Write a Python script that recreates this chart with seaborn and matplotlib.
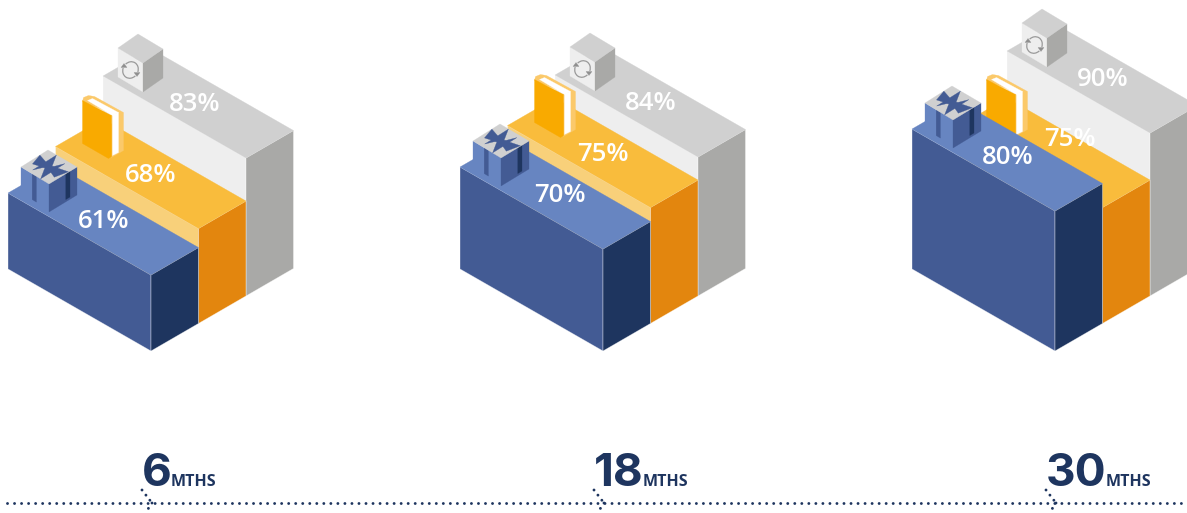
# Isometric stacked blocks, three time points
import numpy as np
import matplotlib
matplotlib.use('Agg')
import matplotlib.pyplot as plt
import seaborn as sns
from matplotlib.patches import Arc

# Data
months = ['6', '18', '30']
gift_pct = [61, 70, 80]
book_pct = [68, 75, 75]
sync_pct = [83, 84, 90]
unit = 'MTHS'

# Colours: (front, top, side)
BLUE = ('#435b94', '#6785c1', '#1e355f')
ORANGE = ('#f8d07a', '#f9bc3c', '#e3860e')
GREY = ('#eeeeee', '#d0d0d0', '#a9a9a7')
NAVY = '#1e355f'

# Height scale of the blocks (not linear in the picture)
scale_pct = [61, 68, 70, 75, 80, 83, 84, 90]
scale_px = [76, 95, 102, 116, 140, 153, 154, 178]
sync_drop = 15

# Isometric geometry
first_apex = np.array([151.0, 351.0])
group_step = 452
length_vec = np.array([-143.0, -82.0])
depth_vec = np.array([47.5, -27.5])


def height(pct, drop=0):
    return np.interp(pct, scale_pct, scale_px) - drop


def poly(ax, pts, color, z, edge=False):
    pts = np.array(pts)
    if edge:
        ax.fill(pts[:, 0], pts[:, 1], facecolor=color, edgecolor=(1, 1, 1, 0.5), lw=0.5, zorder=z)
    else:
        ax.fill(pts[:, 0], pts[:, 1], facecolor=color, edgecolor=color, lw=0.2, zorder=z)


def block(ax, apex, layer, h, colors, z):
    up = np.array([0, -h])
    a = apex + depth_vec * layer
    b = a + depth_vec
    c = a + length_vec
    poly(ax, [a, c, c + up, a + up], colors[0], z, edge=True)
    poly(ax, [a, b, b + up, a + up], colors[2], z, edge=True)
    poly(ax, [a + up, b + up, b + length_vec + up, c + up], colors[1], z)
    # left corner of the top, icons hang from it; top centre for the label
    return c + up, a + up + (depth_vec + length_vec) / 2


def on_face(p, q, r, s, t):
    p, q, r = np.array(p), np.array(q), np.array(r)
    return p + s * (q - p) + t * (r - p)


def gift(ax, c, z):
    c = np.array(c)
    T, L, R, F = c + (40, -43), c + (13, -26), c + (69, -26), c + (41, -9)
    down = np.array([0, 28])
    poly(ax, [L, F, F + down, L + down], BLUE[1], z)
    poly(ax, [F, R, R + down, F + down], BLUE[0], z)
    # ribbon on the two sides
    for s0, s1, face, col in [(0.4, 0.55, (L, F), BLUE[0]), (0.6, 0.75, (F, R), BLUE[2])]:
        p, q = face
        a = p + s0 * (q - p)
        b = p + s1 * (q - p)
        poly(ax, [a, b, b + down * 0.92, a + down * 0.92], col, z)
    poly(ax, [T, R, F, L], GREY[1], z)
    # ribbon cross on the lid, wide at the rim and pinched in the middle
    for band in [[(0.3, 0.12), (0.7, 0), (0.56, 0.44), (0.72, 1), (0.3, 0.9), (0.44, 0.56)],
                 [(0.12, 0.3), (0.44, 0.44), (0, 0.7), (0.9, 0.7), (0.56, 0.56), (1, 0.3)]]:
        poly(ax, [on_face(L, T, F, s, t) for s, t in band], BLUE[0], z)


def book(ax, c, z):
    c = np.array(c)
    back = [(27, -45), (28, -49), (33, -51), (39, -50), (68, -34), (68, 4), (56, 11), (56, -33)]
    poly(ax, c + np.array(back), '#fbc96a', z)
    poly(ax, c + np.array([(57, -32), (63, -34), (63, 6), (57, 9)]), 'white', z)
    poly(ax, c + np.array([(32, -46), (37, -48), (63, -34), (57, -31)]), 'white', z)
    cover = [(27, -46), (56, -31), (56, 10), (53, 12), (27, -3)]
    poly(ax, c + np.array(cover), '#f9aa00', z)


def sync_cube(ax, c, z):
    c = np.array(c)
    T, L, R, F = c + (35, -42), c + (15, -28), c + (60, -27), c + (40, -13)
    down = np.array([0, 29])
    poly(ax, [L, F, F + down, L + down], GREY[0], z)
    poly(ax, [F, R, R + down, F + down], GREY[2], z)
    poly(ax, [T, R, F, L], GREY[1], z)
    mid = (L + F + down) / 2
    ax.add_patch(Arc(mid, 15, 17, angle=30, theta1=20, theta2=165, color='#9a9a9a', lw=0.9, zorder=z))
    ax.add_patch(Arc(mid, 15, 17, angle=30, theta1=200, theta2=345, color='#9a9a9a', lw=0.9, zorder=z))
    for sign in (-1, 1):
        tip = mid + sign * np.array([6.5, 3.5])
        poly(ax, [tip + (-3, -sign), tip + (3, -sign), tip + (0, sign * 3)], '#8f8f8f', z)


sns.set_theme(style='white')
plt.rcParams['font.family'] = ['Open Sans', 'Noto Sans', 'DejaVu Sans']

fig = plt.figure(figsize=(11.87, 5.13), dpi=100)
ax = fig.add_axes([0, 0, 1, 1])
ax.set_xlim(0, 1187)
ax.set_ylim(513, 0)
ax.axis('off')

# Nudges for the labels that sit off the centre of their top face
label_nudge = {(2, 1): (15, -15), (1, 0): (5, 0), (0, 2): (-4, 0)}
renderer = fig.canvas.get_renderer()

for i in range(len(months)):
    apex = first_apex + (group_step * i, 0)
    # back to front so the nearer blocks cover the ones behind
    corner, top3 = block(ax, apex, 2, height(sync_pct[i], sync_drop), GREY, 2)
    sync_cube(ax, corner, 3)
    corner, top2 = block(ax, apex, 1, height(book_pct[i]), ORANGE, 4)
    book(ax, corner, 5)
    corner, top1 = block(ax, apex, 0, height(gift_pct[i]), BLUE, 6)
    gift(ax, corner, 7)

    for k, (pos, pct) in enumerate([(top1, gift_pct[i]), (top2, book_pct[i]), (top3, sync_pct[i])]):
        dx, dy = label_nudge.get((i, k), (0, 0))
        ax.text(pos[0] + dx, pos[1] + dy + 1.5, f'{pct}%', color='white', fontsize=18.5, fontweight='semibold',
                ha='center', va='center', zorder=10)

    # time labels under each block, unit placed right after the number
    num = ax.text(apex[0] - 9, 486.5, months[i], color=NAVY, fontsize=33, fontweight='bold',
                  family=['Inter', 'Open Sans'], ha='left', va='baseline', zorder=10)
    num_right = ax.transData.inverted().transform(num.get_window_extent(renderer))[1, 0]
    ax.text(num_right - 1, 486, unit, color=NAVY, fontsize=11.5, fontweight='bold',
            ha='left', va='baseline', zorder=10)

    # chevron on the time line
    tip = apex[0] + 1
    sns.lineplot(x=[tip - 10, tip], y=[490, 503], ax=ax, color=NAVY, lw=2.1, sort=False, errorbar=None,
                 linestyle=(0, (0.01, 2.2)), dash_capstyle='round')
    sns.lineplot(x=[tip, tip - 6], y=[503, 512], ax=ax, color=NAVY, lw=2.1, sort=False, errorbar=None,
                 linestyle=(0, (0.01, 2.2)), dash_capstyle='round')

# dotted time line
sns.lineplot(x=[7, 1187], y=[503, 503], ax=ax, color=NAVY, lw=2.1, errorbar=None,
             linestyle=(0, (0.01, 2.4)), dash_capstyle='round')

fig.savefig('out.png', dpi=100)
